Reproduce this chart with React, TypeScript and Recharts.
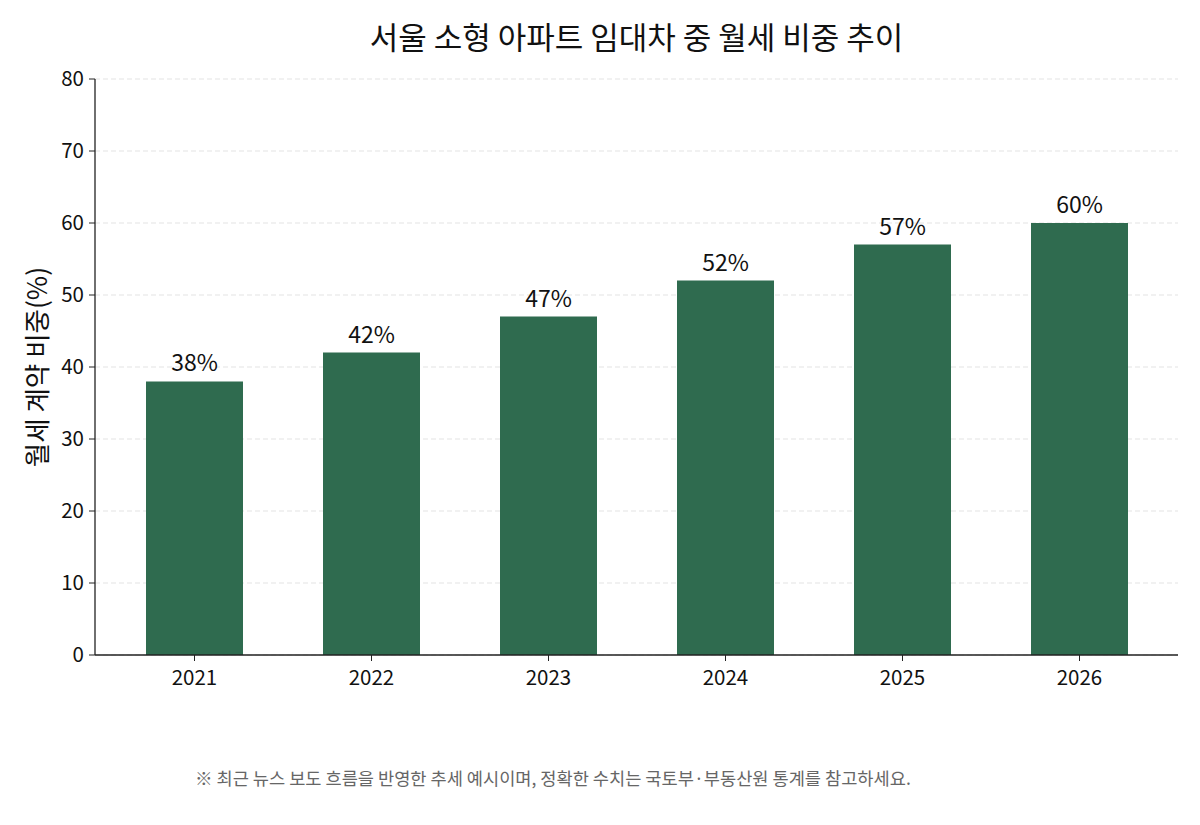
import React from 'react';
import { BarChart, Bar, XAxis, YAxis, CartesianGrid, LabelList } from 'recharts';

const years = ['2021', '2022', '2023', '2024', '2025', '2026'];
const monthlyShare = [38, 42, 47, 52, 57, 60];
const yTicks = [0, 10, 20, 30, 40, 50, 60, 70, 80];

const title = '서울 소형 아파트 임대차 중 월세 비중 추이';
const yLabel = '월세 계약 비중(%)';
const footnote = '※ 최근 뉴스 보도 흐름을 반영한 추세 예시이며, 정확한 수치는 국토부·부동산원 통계를 참고하세요.';

const data = years.map((y, i) => ({ year: y, value: monthlyShare[i] }));

const FONT = '"Noto Sans CJK KR", "Noto Sans", sans-serif';

export default function App() {
  return (
    <div style={{ position: 'absolute', left: 0, top: 0, width: 1200, height: 825, background: '#fff', fontFamily: FONT }}>
      <div style={{ position: 'absolute', left: 0, width: 1273, top: 12, textAlign: 'center', fontSize: 31, color: '#111', lineHeight: '48px' }}>
        {title}
      </div>
      <div style={{ position: 'absolute', left: 36, top: 367, transform: 'translate(-50%, -50%) rotate(-90deg)', fontSize: 26.5, color: '#111', whiteSpace: 'nowrap', lineHeight: '32px' }}>
        {yLabel}
      </div>
      <div style={{ position: 'absolute', left: 195, top: 764, fontSize: 17.6, color: '#666', whiteSpace: 'nowrap', lineHeight: '28px' }}>
        {footnote}
      </div>
      <div style={{ position: 'absolute', left: 0, top: 0 }}>
        <BarChart width={1200} height={825} data={data} margin={{ top: 79, right: 22, bottom: 135, left: 0 }}>
          <CartesianGrid vertical={false} stroke="#e3e3e3" strokeDasharray="5 3" />
          <XAxis
            dataKey="year"
            padding={{ left: 11, right: 10 }}
            height={35}
            tickSize={6}
            tickLine={{ stroke: '#222' }}
            axisLine={{ stroke: '#222', strokeWidth: 1.3 }}
            tick={{ fill: '#111', fontSize: 20.5, fontFamily: FONT }}
            tickMargin={9}
          />
          <YAxis
            domain={[0, 80]}
            ticks={yTicks}
            width={95}
            interval={0}
            tickSize={6}
            tickLine={{ stroke: '#222' }}
            axisLine={{ stroke: '#222', strokeWidth: 1.3 }}
            tick={{ fill: '#111', fontSize: 20.5, fontFamily: FONT }}
            tickMargin={5}
          />
          <Bar dataKey="value" fill="#2f6b4f" barSize={97} isAnimationActive={false}>
            <LabelList dataKey="value" position="top" offset={10} formatter={(v: number) => `${v}%`} style={{ fill: '#111', fontSize: 23, fontFamily: FONT }} />
          </Bar>
        </BarChart>
      </div>
    </div>
  );
}
